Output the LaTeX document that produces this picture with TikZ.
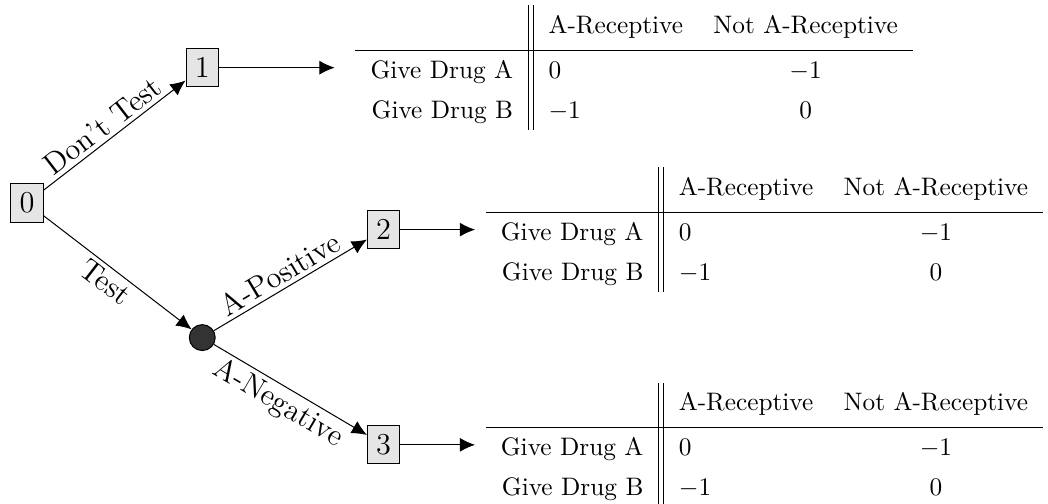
\documentclass[tikz,border=0pt]{standalone}
\usetikzlibrary{arrows.meta}
\newcommand{\drugtable}{{\renewcommand{\arraystretch}{1.3}%
    \begin{tabular}{r||lc}
         & A-Receptive & Not A-Receptive \\[2pt] \hline
        Give Drug A & $0$ & $-1$ \\
        Give Drug B & $-1$ & $0$
    \end{tabular}}}
\begin{document}
\begin{tikzpicture}[
        decision/.style = {draw, fill=gray!20, font=\large, minimum width=0.45cm, minimum height=0.53cm, inner sep=0pt},
        chance/.style = {circle, draw, fill=black!80, minimum size=0.36cm, inner sep=0pt},
        payoff/.style = {anchor=west, inner xsep=4pt, inner ysep=0pt},
        branch/.style = {font=\large, inner sep=1.5pt, sloped, pos=0.48},
        >={Latex[length=6pt, width=5.5pt]}]
    \useasboundingbox (0, 0) rectangle (14.56, 7.0);
    \node [decision] (d0) at (0.375, 4.18) {0};
    \node [decision] (d1) at (2.81, 6.06) {1};
    \node [chance] (c0) at (2.81, 2.31) {};
    \node [decision] (d2) at (5.33, 3.81) {2};
    \node [decision] (d3) at (5.33, 0.82) {3};
    \node [payoff] (t1) at (4.79, 6.06) {\drugtable};
    \node [payoff] (t2) at (6.60, 3.81) {\drugtable};
    \node [payoff] (t3) at (6.60, 0.82) {\drugtable};
    \draw [->] (d0) -- node [branch, above] {Don't Test} (d1);
    \draw [->] (d0) -- node [branch, below] {Test} (c0);
    \draw [->] (c0) -- node [branch, above] {A-Positive} (d2);
    \draw [->] (c0) -- node [branch, below] {A-Negative} (d3);
    \draw [->, shorten >=4pt] (d1) -- (t1);
    \draw [->] (d2) -- (t2);
    \draw [->] (d3) -- (t3);
\end{tikzpicture}
\end{document}
